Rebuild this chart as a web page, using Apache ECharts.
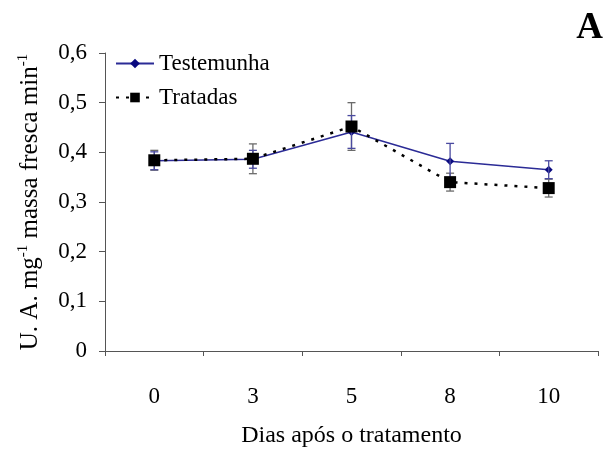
<!DOCTYPE html>
<html>
<head>
<meta charset="utf-8">
<script src="https://cdn.jsdelivr.net/npm/echarts@6/dist/echarts.min.js"></script>
<style>
  html, body { margin: 0; padding: 0; background: #fff; }
  #chart { width: 613px; height: 453px; }
</style>
</head>
<body>
<div id="chart"></div>
<script>
// Days after treatment
const days = ['0', '3', '5', '8', '10'];
// Enzyme activity, control plants
const testemunha = [0.383, 0.386, 0.441, 0.382, 0.365];
const testemunhaErr = [0.018, 0.018, 0.033, 0.036, 0.018];
// Enzyme activity, treated plants
const tratadas = [0.384, 0.387, 0.452, 0.340, 0.328];
const tratadasErr = [0.02, 0.03, 0.048, 0.018, 0.018];
const yTicks = { min: 0, max: 0.6, step: 0.1 };

const serif = 'Liberation Serif';

function errData(vals, errs) {
  return vals.map((v, i) => [i, v - errs[i], v + errs[i]]);
}

function errorBars(color) {
  return function (params, api) {
    const i = api.value(0);
    const lo = api.coord([i, api.value(1)]);
    const hi = api.coord([i, api.value(2)]);
    const w = 4;
    const style = { stroke: color, lineWidth: 1.3 };
    return {
      type: 'group',
      children: [
        { type: 'line', shape: { x1: lo[0], y1: lo[1], x2: hi[0], y2: hi[1] }, style },
        { type: 'line', shape: { x1: lo[0] - w, y1: lo[1], x2: lo[0] + w, y2: lo[1] }, style },
        { type: 'line', shape: { x1: hi[0] - w, y1: hi[1], x2: hi[0] + w, y2: hi[1] }, style }
      ]
    };
  };
}

const chart = echarts.init(document.getElementById('chart'));
chart.setOption({
  animation: false,
  backgroundColor: '#fff',
  textStyle: { fontFamily: serif, color: '#000' },
  title: {
    text: 'A',
    right: 5,
    top: 5,
    textStyle: { fontFamily: serif, fontSize: 37, fontWeight: 'bold', color: '#000' }
  },
  legend: {
    orient: 'vertical',
    left: 110,
    top: 47,
    itemGap: 11,
    itemWidth: 38,
    itemHeight: 12,
    textStyle: { fontFamily: serif, fontSize: 23, color: '#000' },
    data: ['Testemunha', 'Tratadas']
  },
  grid: { left: 105, right: 15, top: 53, bottom: 95, containLabel: false },
  xAxis: {
    type: 'category',
    data: days,
    boundaryGap: true,
    name: 'Dias após o tratamento',
    nameLocation: 'middle',
    nameGap: 73,
    nameTextStyle: { fontFamily: serif, fontSize: 24, color: '#000' },
    axisLine: { lineStyle: { color: '#555', width: 1 } },
    axisTick: { show: true, length: 5, alignWithLabel: false, lineStyle: { color: '#555' } },
    axisLabel: { fontFamily: serif, fontSize: 23, color: '#000', margin: 34 }
  },
  yAxis: {
    type: 'value',
    min: yTicks.min,
    max: yTicks.max,
    interval: yTicks.step,
    name: '{n|U. A. mg}{s|-1}{n| massa fresca min}{s|-1}',
    nameLocation: 'middle',
    nameRotate: 90,
    nameGap: 62,
    nameTextStyle: {
      rich: {
        n: { fontFamily: serif, fontSize: 25, color: '#000', lineHeight: 27, verticalAlign: 'bottom' },
        s: { fontFamily: serif, fontSize: 15, color: '#000', lineHeight: 15, verticalAlign: 'top' }
      }
    },
    splitLine: { show: false },
    axisLine: { show: true, lineStyle: { color: '#555', width: 1 } },
    axisTick: { show: true, length: 6, lineStyle: { color: '#555' } },
    axisLabel: {
      fontFamily: serif, fontSize: 23, color: '#000', margin: 18,
      formatter: v => String(Math.round(v * 10) / 10).replace('.', ',')
    }
  },
  series: [
    {
      name: 'Testemunha',
      type: 'line',
      data: testemunha,
      color: '#1a1a8a',
      symbol: 'diamond',
      symbolSize: 8,
      lineStyle: { color: '#2b2b96', width: 1.5 },
      itemStyle: { color: '#0a0a80' },
      z: 3
    },
    {
      type: 'custom',
      data: errData(testemunha, testemunhaErr),
      renderItem: errorBars('#4a4aa0'),
      z: 4,
      silent: true
    },
    {
      type: 'custom',
      data: errData(tratadas, tratadasErr),
      renderItem: errorBars('#6b6b6b'),
      z: 2,
      silent: true
    },
    {
      name: 'Tratadas',
      type: 'line',
      data: tratadas,
      color: '#000',
      symbol: 'rect',
      symbolSize: 12,
      lineStyle: { color: '#000', width: 2.5, type: [3, 7] },
      itemStyle: { color: '#000' },
      z: 5
    }
  ]
});
</script>
</body>
</html>
